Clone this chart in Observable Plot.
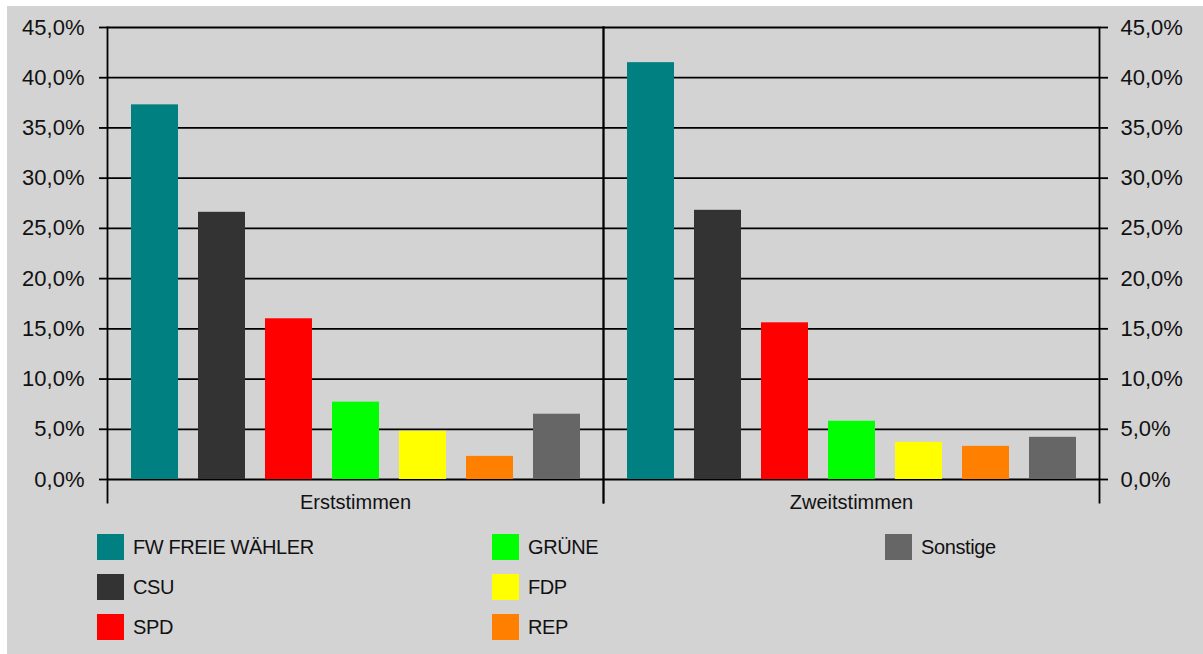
<!DOCTYPE html>
<html>
<head>
<meta charset="utf-8">
<script src="https://cdn.jsdelivr.net/npm/d3@7"></script>
<script src="https://cdn.jsdelivr.net/npm/@observablehq/plot@0.6"></script>
<style>
  html, body { margin: 0; padding: 0; background: #ffffff; }
  #chart { position: absolute; left: 7px; top: 6px; width: 1196px; height: 648px; background: #d3d3d3; overflow: hidden; }
  #chart svg { position: absolute; left: 0; top: 0; }
  #legend { position: absolute; left: 90px; top: 528px; display: grid; grid-template-columns: 395px 393px auto; grid-auto-flow: column; grid-template-rows: 40px 40px 40px; }
  .item { display: flex; align-items: flex-start; font-family: "Liberation Sans", Arial, sans-serif; font-size: 20px; letter-spacing: -0.4px; color: #111; }
  .sw { width: 27px; height: 26px; margin-right: 9px; flex: none; }
  .lbl { line-height: 26px; }
</style>
</head>
<body>
<div id="chart"><div id="legend"></div></div>
<script>
const groups = ["Erststimmen", "Zweitstimmen"];
const parties = ["FW FREIE WÄHLER", "CSU", "SPD", "GRÜNE", "FDP", "REP", "Sonstige"];
const partyColors = ["#008080", "#333333", "#ff0000", "#00ff00", "#ffff00", "#ff8000", "#666666"];
const erststimmen = [37.3, 26.6, 16.0, 7.7, 4.8, 2.3, 6.5];
const zweitstimmen = [41.5, 26.8, 15.6, 5.8, 3.7, 3.3, 4.2];
const yTicks = [0, 5, 10, 15, 20, 25, 30, 35, 40, 45];

const rows = [];
parties.forEach((p, i) => rows.push({group: groups[0], party: p, value: erststimmen[i]}));
parties.forEach((p, i) => rows.push({group: groups[1], party: p, value: zweitstimmen[i]}));

const fmt = d => d.toFixed(1).replace(".", ",") + "%";
const ink = "#111";
const line = "#000";

const svg = Plot.plot({
  width: 1196,
  height: 520,
  marginLeft: 100,
  marginRight: 104,
  marginTop: 21,
  marginBottom: 47,
  style: {background: "transparent", fontFamily: "'Liberation Sans', Arial, sans-serif", color: ink},
  facet: {data: rows, x: "group"},
  fx: {domain: groups, padding: 0, label: null},
  x: {domain: parties, paddingInner: 0.3, paddingOuter: 0.32, axis: null},
  y: {domain: [0, 45]},
  color: {domain: parties, range: partyColors},
  marks: [
    Plot.ruleY(yTicks, {stroke: line, strokeWidth: 1.8}),
    Plot.barY(rows, {x: "party", y: "value", fill: "party"}),
    Plot.frame({anchor: "left", insetBottom: -23, stroke: line, strokeWidth: 1.8}),
    Plot.frame({anchor: "right", insetBottom: -23, stroke: line, strokeWidth: 1.8}),
    Plot.axisY(yTicks, {anchor: "left", tickSize: 8, tickPadding: 15, tickFormat: fmt, fontSize: 22, label: null, strokeWidth: 1.8, stroke: line, fill: ink, letterSpacing: 1.5}),
    Plot.axisY(yTicks, {anchor: "right", tickSize: 8, tickPadding: 13, tickFormat: fmt, fontSize: 22, label: null, strokeWidth: 1.8, stroke: line, fill: ink, letterSpacing: 1.5}),
    Plot.axisFx({anchor: "bottom", tickSize: 0, tickPadding: 15, fontSize: 20, label: null, fill: ink, letterSpacing: 0.4})
  ]
});
document.getElementById("chart").prepend(svg);

const legend = document.getElementById("legend");
parties.forEach((p, i) => {
  const item = document.createElement("div");
  item.className = "item";
  const sw = document.createElement("div");
  sw.className = "sw";
  sw.style.background = partyColors[i];
  const lbl = document.createElement("span");
  lbl.className = "lbl";
  lbl.textContent = p;
  item.appendChild(sw);
  item.appendChild(lbl);
  legend.appendChild(item);
});
</script>
</body>
</html>
